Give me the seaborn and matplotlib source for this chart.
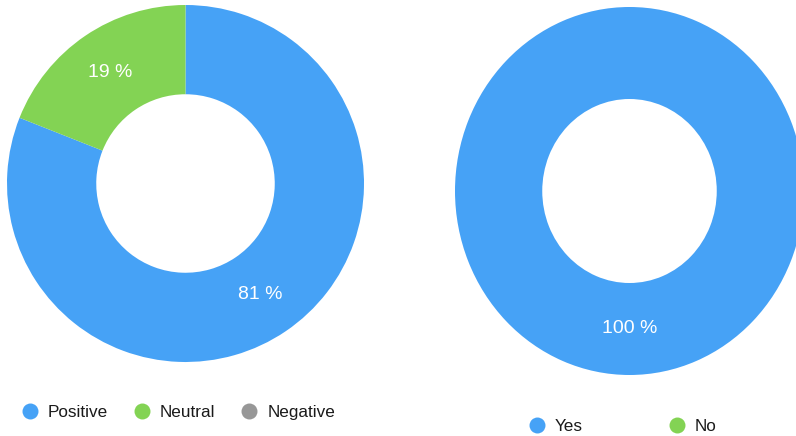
import matplotlib
matplotlib.use("Agg")
import matplotlib.pyplot as plt
from matplotlib.lines import Line2D
import seaborn as sns

# ---- data ----
sentiment_labels = ["Positive", "Neutral", "Negative"]
sentiment_values = [81, 19, 0]
answer_labels = ["Yes", "No"]
answer_values = [100, 0]

BLUE = "#46A2F6"
GREEN = "#83D354"
GRAY = "#979797"
sentiment_colors = [BLUE, GREEN, GRAY]
answer_colors = [BLUE, GREEN]

sns.set_theme(style="white")
plt.rcParams["font.family"] = ["Liberation Sans", "DejaVu Sans"]

W, H = 796, 436
fig = plt.figure(figsize=(W / 100, H / 100), dpi=100)
fig.patch.set_facecolor("white")


def px_axes(cx, cy, rx, ry):
    return fig.add_axes([(cx - rx) / W, 1 - (cy + ry) / H, 2 * rx / W, 2 * ry / H])


def fmt(p):
    return f"{p:.0f} %" if p > 0.5 else ""


def donut(ax, values, colors):
    wedges, texts, autotexts = ax.pie(
        values, colors=colors, startangle=90, counterclock=False,
        radius=1.0, autopct=fmt, pctdistance=0.75,
        wedgeprops=dict(width=0.5, linewidth=0),
        textprops=dict(color="white", fontsize=14),
    )
    ax.set_aspect("auto")
    ax.set_xlim(-1, 1)
    ax.set_ylim(-1, 1)
    ax.axis("off")


ax1 = px_axes(185.5, 183.5, 178.5, 178.5)
donut(ax1, sentiment_values, sentiment_colors)

ax2 = px_axes(629.5, 191, 174.5, 184)
donut(ax2, answer_values, answer_colors)


def make_legend(labels, colors, x_px, y_px, colsp):
    handles = [Line2D([], [], marker="o", linestyle="", markersize=11.5,
                      markerfacecolor=c, markeredgewidth=0) for c in colors]
    fig.legend(handles, labels, loc="center left",
               bbox_to_anchor=(x_px / W, 1 - y_px / H),
               ncol=len(labels), frameon=False, fontsize=12.3,
               handlelength=1.0, handletextpad=0.55, columnspacing=colsp,
               borderpad=0, borderaxespad=0, labelcolor="#1a1a1a")


make_legend(sentiment_labels, sentiment_colors, 21.5, 412, 1.48)
make_legend(answer_labels, answer_colors, 528.5, 426, 4.98)

fig.savefig("out.png", dpi=100, facecolor="white")
